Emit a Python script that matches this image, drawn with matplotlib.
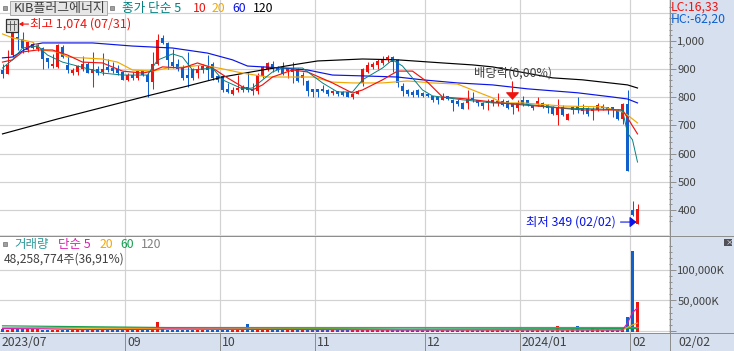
import matplotlib
matplotlib.use("Agg")
import matplotlib.pyplot as plt
from matplotlib.lines import Line2D
from matplotlib.patches import Rectangle

plt.rcParams['font.family'] = ['Noto Sans CJK KR', 'DejaVu Sans']

W = 734
H = 351

# candle data
open_ = [896, 882, 950, 1015, 1006, 968, 975, 970, 975, 938, 910, 908, 980, 915, 885, 890,
         900, 920, 887, 900, 890, 902, 902, 902, 890, 860, 878, 867, 893, 878, 855, 918,
         1010, 992, 926, 918, 908, 878, 900, 885, 897, 905, 918, 875, 875, 830, 813, 825,
         827, 837, 830, 822, 875, 900, 920, 908, 908, 894, 890, 902, 870, 858, 825, 824,
         830, 825, 815, 819, 819, 819, 801, 813, 849, 890, 908, 914, 922, 932, 942, 932,
         839, 825, 819, 827, 815, 813, 803, 795, 792, 801, 792, 783, 780, 780, 795, 786,
         778, 778, 781, 778, 788, 788, 772, 761, 790, 790, 769, 776, 781, 772, 766, 737,
         766, 719, 755, 769, 761, 761, 751, 755, 761, 761, 761, 755, 722, 776, 399, 349]
high = [920, 968, 1074, 1033, 1033, 1000, 995, 990, 980, 940, 955, 990, 985, 945, 905, 915,
        945, 925, 962, 910, 956, 935, 925, 914, 895, 885, 890, 895, 895, 890, 960, 1025,
        1020, 995, 970, 935, 915, 962, 905, 915, 920, 950, 925, 880, 880, 849, 835, 878,
        845, 890, 850, 885, 910, 925, 930, 910, 925, 905, 925, 905, 890, 860, 830, 828,
        845, 830, 825, 824, 822, 822, 815, 826, 905, 925, 925, 935, 945, 950, 948, 935,
        850, 830, 825, 830, 820, 816, 805, 797, 815, 805, 795, 795, 785, 825, 820, 790,
        783, 795, 795, 815, 795, 790, 778, 790, 805, 792, 770, 800, 785, 775, 770, 795,
        772, 745, 770, 800, 775, 765, 765, 778, 775, 765, 765, 760, 780, 825, 430, 420]
low = [870, 882, 944, 968, 958, 962, 970, 965, 900, 905, 905, 905, 940, 885, 880, 880,
       895, 885, 837, 880, 880, 890, 885, 880, 860, 858, 860, 860, 875, 800, 830, 915,
       990, 900, 905, 895, 860, 837, 860, 870, 885, 860, 860, 855, 820, 815, 808, 818,
       820, 820, 807, 812, 870, 895, 890, 890, 878, 870, 850, 855, 845, 805, 800, 800,
       820, 805, 808, 803, 805, 800, 795, 810, 840, 885, 900, 900, 915, 925, 890, 835,
       805, 805, 800, 800, 800, 800, 785, 775, 790, 790, 750, 770, 758, 758, 785, 768,
       760, 755, 770, 770, 770, 760, 740, 750, 770, 768, 755, 770, 762, 745, 738, 700,
       735, 718, 740, 745, 740, 735, 720, 752, 755, 740, 730, 720, 705, 539, 380, 349]
close = [882, 914, 1033, 1006, 975, 998, 990, 985, 935, 926, 920, 985, 942, 897, 897, 910,
         920, 887, 900, 885, 902, 897, 894, 887, 860, 878, 870, 893, 880, 855, 920, 1003,
         992, 932, 912, 899, 867, 870, 867, 902, 910, 897, 867, 863, 827, 820, 827, 832,
         837, 825, 822, 878, 908, 922, 900, 896, 882, 899, 902, 858, 873, 822, 819, 820,
         822, 811, 819, 813, 807, 801, 813, 822, 902, 914, 918, 930, 935, 942, 926, 849,
         822, 813, 807, 807, 803, 803, 792, 792, 799, 795, 780, 777, 760, 795, 789, 780,
         769, 785, 787, 785, 772, 763, 766, 781, 776, 771, 761, 788, 764, 763, 740, 764,
         737, 740, 761, 755, 752, 740, 757, 772, 766, 755, 755, 723, 776, 539, 381, 405]

# volume in thousands of shares
volume = [3300, 2000, 3300, 3300, 3600, 3300, 3000, 2600, 1800, 1300, 1700, 1600, 1600, 2000, 2000, 1600,
          1600, 1600, 1300, 1300, 1600, 1300, 1300, 1300, 1300, 1600, 1300, 1300, 1600, 1600, 3000, 15000,
          3000, 1600, 2000, 1600, 1600, 1600, 1600, 1600, 1600, 1300, 1300, 1600, 1300, 1600, 1600, 2000,
          2000, 11500, 2600, 2600, 2000, 2000, 1600, 1300, 1300, 1300, 2000, 2000, 6500, 1300, 1300, 1300,
          1300, 1300, 1300, 1300, 1300, 1300, 1300, 2600, 2600, 1300, 1300, 1300, 1300, 1300, 1300, 1300,
          1300, 1300, 1300, 1300, 1300, 1300, 1300, 1300, 1300, 1300, 1300, 1300, 1300, 1300, 1300, 1300,
          1300, 1300, 1300, 1300, 1300, 1300, 1300, 1300, 1300, 1300, 1300, 1300, 1300, 1300, 1300, 8000,
          1300, 1300, 3300, 8000, 1600, 1600, 7000, 3300, 1300, 1300, 1300, 1300, 5000, 23000, 131000, 48258]

# moving averages
ma5_x = [0, 2, 4, 7, 9, 12, 15, 18, 20, 24, 29, 31, 34, 36, 38, 42, 44, 48, 50, 54, 56, 60, 64, 67,
         70, 72, 76, 78, 80, 84, 86, 92, 98, 104, 112, 118, 124, 125, 126, 127]
ma5 = [904, 933, 975, 982, 950, 925, 911, 897, 886, 879, 879, 932, 954, 943, 897, 904, 862, 830, 833,
       890, 904, 904, 851, 819, 819, 862, 904, 933, 911, 826, 805, 791, 780, 776, 762, 759, 755, 673, 649, 570]
ma10_x = [0, 2, 4, 7, 10, 13, 16, 20, 24, 28, 30, 32, 36, 39, 42, 45, 48, 50, 52, 54, 58, 61, 66, 70,
          72, 76, 79, 82, 85, 88, 93, 98, 102, 109, 116, 124, 125, 127]
ma10 = [925, 933, 961, 968, 968, 950, 925, 922, 893, 886, 893, 908, 904, 922, 904, 869, 837, 826, 844,
        872, 897, 890, 851, 815, 826, 862, 893, 893, 854, 801, 794, 783, 776, 766, 755, 755, 727, 670]
ma20_x = [0, 2, 6, 8, 11, 13, 16, 20, 23, 26, 30, 33, 37, 40, 44, 48, 53, 58, 62, 66, 70, 76, 81, 86,
          91, 94, 98, 100, 104, 112, 120, 124, 125, 127]
ma20 = [1025, 1011, 996, 968, 961, 943, 940, 936, 925, 897, 893, 904, 908, 915, 901, 886, 872, 872, 872,
        854, 851, 851, 858, 851, 847, 826, 798, 780, 780, 769, 766, 748, 737, 709]
ma60_x = [0, 2, 6, 8, 18, 26, 34, 41, 46, 49, 52, 56, 61, 66, 72, 79, 84, 91, 98, 105, 115, 122, 125, 127]
ma60 = [940, 943, 986, 993, 993, 982, 975, 957, 933, 911, 908, 904, 897, 879, 876, 872, 862, 851, 844,
        830, 816, 801, 794, 780]
ma120_x = [0, 11, 29, 37, 44, 52, 58, 63, 72, 79, 88, 94, 98, 110, 116, 125, 127]
ma120 = [670, 723, 805, 840, 872, 897, 915, 929, 936, 933, 922, 915, 908, 869, 862, 844, 833]

vol_ma5_x = [0, 8, 16, 30, 33, 60, 80, 110, 124, 125, 126, 127]
vol_ma5 = [4000, 3600, 2300, 2600, 3300, 2300, 1600, 1800, 1600, 13000, 30000, 38000]
vol_ma20_x = [0, 28, 33, 64, 90, 124, 125, 126, 127]
vol_ma20 = [5500, 4200, 3600, 2900, 1800, 1800, 6000, 10000, 13000]
vol_ma60_x = [0, 23, 40, 80, 127]
vol_ma60 = [8500, 6500, 4900, 3300, 4000]
vol_ma120_x = [0, 127]
vol_ma120 = [6500, 6500]

# month boundaries on the candle index
month_pos = [24.5, 43.5, 62.5, 84.5, 103.5, 125.5]
month_labels = ['09', '10', '11', '12', '2024/01', '02']
price_ticks = [400, 500, 600, 700, 800, 900, 1000]
vol_ticks = [50000, 100000]

BLUE = '#1060CC'
RED = '#EE1510'
TEAL = '#058080'
ORANGE = '#F0A800'
GRID = '#D2D2D2'
EDGE = '#8E8E8E'
PANEL = '#D6E0EF'
TXT = '#404040'
LW = 0.72
MA_LW = 0.85
BAR_W = 0.68

fig = plt.figure(figsize=(W / 100, H / 100), dpi=100, facecolor=PANEL)
ax = fig.add_axes([0, 1 - 235 / H, 669 / W, 235 / H])
ax2 = fig.add_axes([0, 1 - 333 / H, 669 / W, 97 / H])


def ptext(x, y, s, color=TXT, size=8.8, **kw):
    fig.text(x / W, 1 - (y + 0.8) / H, s, color=color, fontsize=size, va='center', **kw)


def pline(x0, y0, x1, y1, color=EDGE, lw=LW):
    fig.add_artist(Line2D([x0 / W, x1 / W], [1 - y0 / H, 1 - y1 / H], color=color, lw=lw))


for a in (ax, ax2):
    a.set_xlim(-0.5, 133.3)
    a.set_axisbelow(True)
    a.set_xticks(month_pos)
    a.set_xticklabels([])
    a.tick_params(axis='x', length=0)
    a.grid(True, color=GRID, lw=0.85)
    for s in a.spines.values():
        s.set_visible(False)
    a.yaxis.tick_right()
    a.tick_params(axis='y', which='major', length=5, width=0.7, color=EDGE, pad=1,
                  labelsize=8.1, labelcolor=TXT)
    a.tick_params(axis='y', which='minor', length=2.2, width=0.7, color=EDGE)

# price panel
ax.set_ylim(311, 1145.5)
ax.set_yticks(price_ticks + [1100])
ax.set_yticklabels(['400', '500', '600', '700', '800', '900', '1,000', ''])
ax.set_yticks(list(range(360, 1140, 20)), minor=True)

n = len(close)
idx = list(range(n))
colors = [RED if close[i] >= open_[i] else BLUE for i in idx]
ax.vlines(idx, low, high, colors=colors, lw=0.75, zorder=3)
bottoms = [min(open_[i], close[i]) for i in idx]
heights = [max(abs(close[i] - open_[i]), 9) for i in idx]
ax.bar(idx, heights, bottom=bottoms, width=BAR_W, color=colors, lw=0, zorder=3)

ax.plot(ma120_x, ma120, color='black', lw=MA_LW, zorder=4)
ax.plot(ma60_x, ma60, color='#0A14E6', lw=MA_LW, zorder=4)
ax.plot(ma20_x, ma20, color=ORANGE, lw=MA_LW, zorder=4)
ax.plot(ma10_x, ma10, color=RED, lw=MA_LW, zorder=5)
ax.plot(ma5_x, ma5, color=TEAL, lw=0.7, zorder=5)

# dividend marker
ax.annotate('', xy=(102, 791), xytext=(102, 855), zorder=6,
            arrowprops=dict(arrowstyle='-|>,head_width=0.42,head_length=0.45', color=RED, lw=0.8,
                            shrinkA=0, shrinkB=0))
# high and low markers
ax.annotate('', xy=(3.3, 1060), xytext=(5.2, 1060), zorder=6,
            arrowprops=dict(arrowstyle='-|>,head_width=0.12,head_length=0.2', color=RED, lw=0.8,
                            shrinkA=0, shrinkB=0))
ax.annotate('', xy=(126.8, 357), xytext=(123.6, 357), zorder=6,
            arrowprops=dict(arrowstyle='-|>,head_width=0.32,head_length=0.4', color='#0A14E6', lw=0.8,
                            shrinkA=0, shrinkB=0))

# volume panel
ax2.set_ylim(-3279, 155700)
ax2.set_yticks([0] + vol_ticks)
ax2.set_yticklabels(['', '50,000K', '100,000K'])
ax2.set_yticks(list(range(10000, 150000, 10000)), minor=True)
ax2.bar(idx, [v + 1600 for v in volume], bottom=-1600, width=BAR_W, color=colors, lw=0, zorder=3)
ax2.plot(vol_ma120_x, vol_ma120, color='#808080', lw=MA_LW, zorder=4)
ax2.plot(vol_ma60_x, vol_ma60, color='#18A050', lw=MA_LW, zorder=4)
ax2.plot(vol_ma20_x, vol_ma20, color=ORANGE, lw=MA_LW, zorder=5)
ax2.plot(vol_ma5_x, vol_ma5, color='#D81FB0', lw=MA_LW, zorder=6)

# frame lines
pline(0, 235.5, W, 235.5)
pline(0, 333, W, 333)
pline(669.5, 0, 669.5, H)
for p in month_pos:
    x = 2.5 + 5 * p
    pline(x, 333, x, H)

# header row
fig.add_artist(Rectangle((10 / W, 1 - 15 / H), 97 / W, 14 / H, transform=fig.transFigure,
                         facecolor='#E6E6E6', edgecolor='#A8A8A8', lw=0.7, zorder=5))
for ix, iy in ((5, 8), (112, 8), (5, 244)):
    fig.add_artist(Rectangle(((ix - 2) / W, 1 - (iy + 2) / H), 4 / W, 4 / H, transform=fig.transFigure,
                             facecolor='#A0A0A0', edgecolor='#707070', lw=0.5, zorder=5))
ptext(14, 8, 'KIB플러그에너지', size=9.3, zorder=6)
ptext(122, 8, '종가 단순 5', color=TEAL, size=9.1, zorder=6)
ptext(193, 8, '10', color=RED, zorder=6)
ptext(212, 8, '20', color=ORANGE, zorder=6)
ptext(232, 8, '60', color='#0A14E6', zorder=6)
ptext(253, 8, '120', color='black', zorder=6)

# table icon under the header
fig.add_artist(Rectangle((5.5 / W, 1 - 32 / H), 12 / W, 13 / H, transform=fig.transFigure,
                         facecolor='#E0E0E0', edgecolor='#303030', lw=0.9, zorder=7))
for gx in (9.5, 13.5):
    fig.add_artist(Line2D([gx / W, gx / W], [1 - 30 / H, 1 - 21 / H], color='#505050', lw=0.6, zorder=8))
fig.add_artist(Line2D([7 / W, 16 / W], [1 - 24 / H, 1 - 24 / H], color='#505050', lw=0.6, zorder=8))

ptext(30, 23.5, '최고 1,074 (07/31)', color=RED, size=9, zorder=6)
ptext(474, 72, '배당락(0,00%)', size=8.9, zorder=6)
ptext(526, 221, '최저 349 (02/02)', color='#0A14E6', size=8.9, zorder=6)
ptext(671, 6, 'LC:16,33', color=RED, zorder=6)
ptext(671, 18, 'HC:-62,20', color=BLUE, zorder=6)

# volume legend
ptext(14, 244, '거래량', color='#2F9A9A', size=9, zorder=6)
ptext(58, 244, '단순 5', color='#D81FB0', size=9, zorder=6)
ptext(100, 244, '20', color=ORANGE, zorder=6)
ptext(120, 244, '60', color='#18A050', zorder=6)
ptext(141, 244, '120', color='#808080', zorder=6)
ptext(4, 258, '48,258,774주(36,91%)', size=8.7, zorder=6)

# close button
fig.add_artist(Rectangle((724 / W, 1 - 246 / H), 8 / W, 7 / H, transform=fig.transFigure,
                         facecolor='#505058', edgecolor='none', zorder=6))
ptext(725.8, 241.6, '×', color='white', size=5.5, zorder=7)

# x axis labels
ptext(2, 341.5, '2023/07')
for p, lab in zip(month_pos, month_labels):
    ptext(2.5 + 5 * p + 2, 341.5, lab)
ptext(678, 341.5, '02/02')

plt.savefig('out.png', dpi=100, facecolor=PANEL)
